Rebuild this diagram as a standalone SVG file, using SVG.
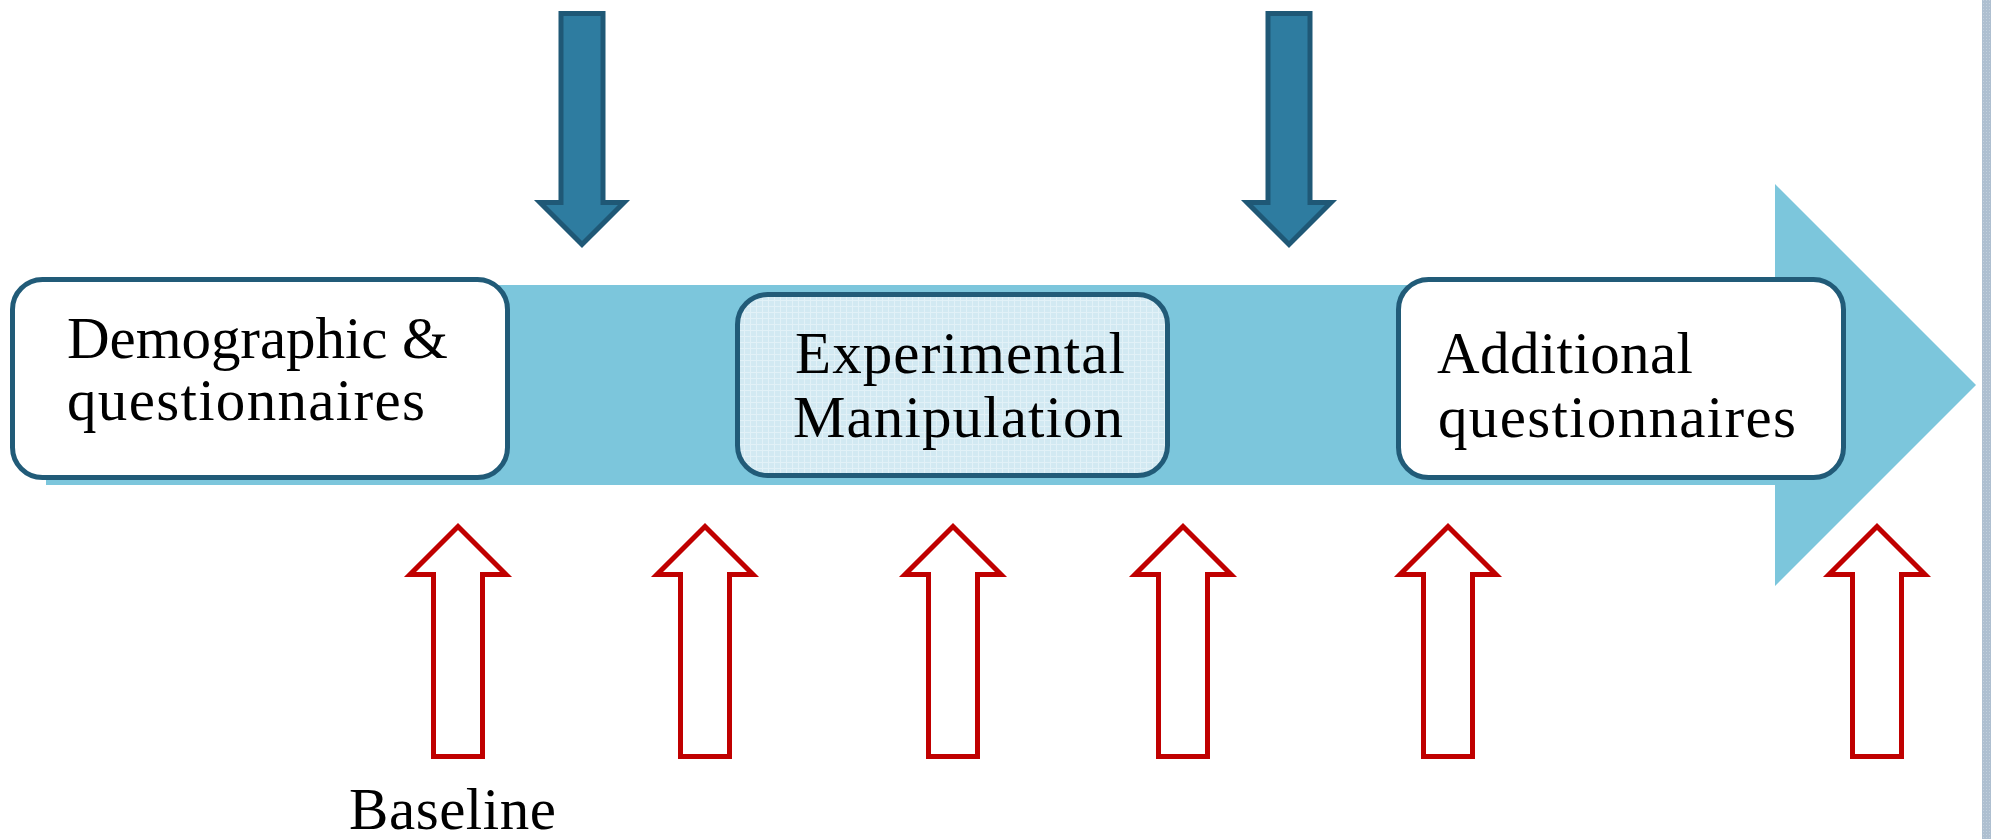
<svg xmlns="http://www.w3.org/2000/svg" xmlns:xlink="http://www.w3.org/1999/xlink" width="1991" height="839" viewBox="0 0 1991 839">
  <style>
    .label { font-family: "Liberation Serif", "Times New Roman", serif; font-size: 59px; fill: #000000; }
    .box { stroke: #215b78; stroke-width: 5; }
    .plain { fill: #ffffff; }
    .marker-down { fill: #2e7ca0; stroke: #1f5876; stroke-width: 5; stroke-linejoin: miter; }
    .marker-up { fill: #ffffff; stroke: #c00000; stroke-width: 5; stroke-linejoin: miter; }
  </style>
  <defs>
    <!-- faint grid texture for the highlighted step -->
    <pattern id="grid" width="6" height="6" patternUnits="userSpaceOnUse">
      <rect width="6" height="6" fill="#d2e9f2"/>
      <path d="M0 0.5 H6 M0.5 0 V6" stroke="#e2f1f7" stroke-width="1"/>
    </pattern>
    <pattern id="dots" width="3" height="3" patternUnits="userSpaceOnUse">
      <rect width="3" height="3" fill="#aebfd0"/>
      <rect width="1" height="1" fill="#c3d0dd"/>
    </pattern>
    <!-- downward block arrow, centred on x = 0 -->
    <path id="down-arrow" d="M -21 13.5 L 21 13.5 L 21 202.5 L 42 202.5 L 0 244.5 L -42 202.5 L -21 202.5 Z"/>
    <!-- upward outlined arrow, centred on x = 0 -->
    <path id="up-arrow" d="M 0 526.5 L 48 574.5 L 24.5 574.5 L 24.5 756.5 L -24.5 756.5 L -24.5 574.5 L -48 574.5 Z"/>
  </defs>

  <rect x="0" y="0" width="1991" height="839" fill="#ffffff"/>
  <!-- right-hand border strip -->
  <rect x="1982" y="0" width="9" height="839" fill="url(#dots)"/>

  <!-- timeline -->
  <g id="timeline">
    <path d="M 46 285 L 1775 285 L 1775 184 L 1976 385 L 1775 586 L 1775 485 L 46 485 Z" fill="#7cc6dc"/>
  </g>

  <g id="step-demographic">
    <rect class="box plain" x="12.5" y="279.5" width="495" height="198" rx="30"/>
    <text class="label" x="67" y="358" textLength="381">Demographic &amp;</text>
    <text class="label" x="67" y="420" textLength="358">questionnaires</text>
  </g>

  <g id="step-manipulation">
    <rect class="box" fill="url(#grid)" x="737.5" y="294.5" width="430" height="181" rx="30"/>
    <text class="label" x="795" y="373" textLength="330">Experimental</text>
    <text class="label" x="793" y="437" textLength="330">Manipulation</text>
  </g>

  <g id="step-additional">
    <rect class="box plain" x="1398.5" y="279.5" width="445" height="198" rx="30"/>
    <text class="label" x="1437" y="373" textLength="256">Additional</text>
    <text class="label" x="1438" y="437" textLength="358">questionnaires</text>
  </g>

  <g id="connectors">
    <use xlink:href="#down-arrow" class="marker-down" x="582" y="0"/>
    <use xlink:href="#down-arrow" class="marker-down" x="1289" y="0"/>
    <use xlink:href="#up-arrow" class="marker-up" x="458" y="0"/>
    <use xlink:href="#up-arrow" class="marker-up" x="705" y="0"/>
    <use xlink:href="#up-arrow" class="marker-up" x="953" y="0"/>
    <use xlink:href="#up-arrow" class="marker-up" x="1183" y="0"/>
    <use xlink:href="#up-arrow" class="marker-up" x="1448" y="0"/>
    <use xlink:href="#up-arrow" class="marker-up" x="1877" y="0"/>
  </g>

  <g id="label-baseline">
    <text class="label" x="349" y="829" font-size="57" textLength="207">Baseline</text>
  </g>
</svg>
